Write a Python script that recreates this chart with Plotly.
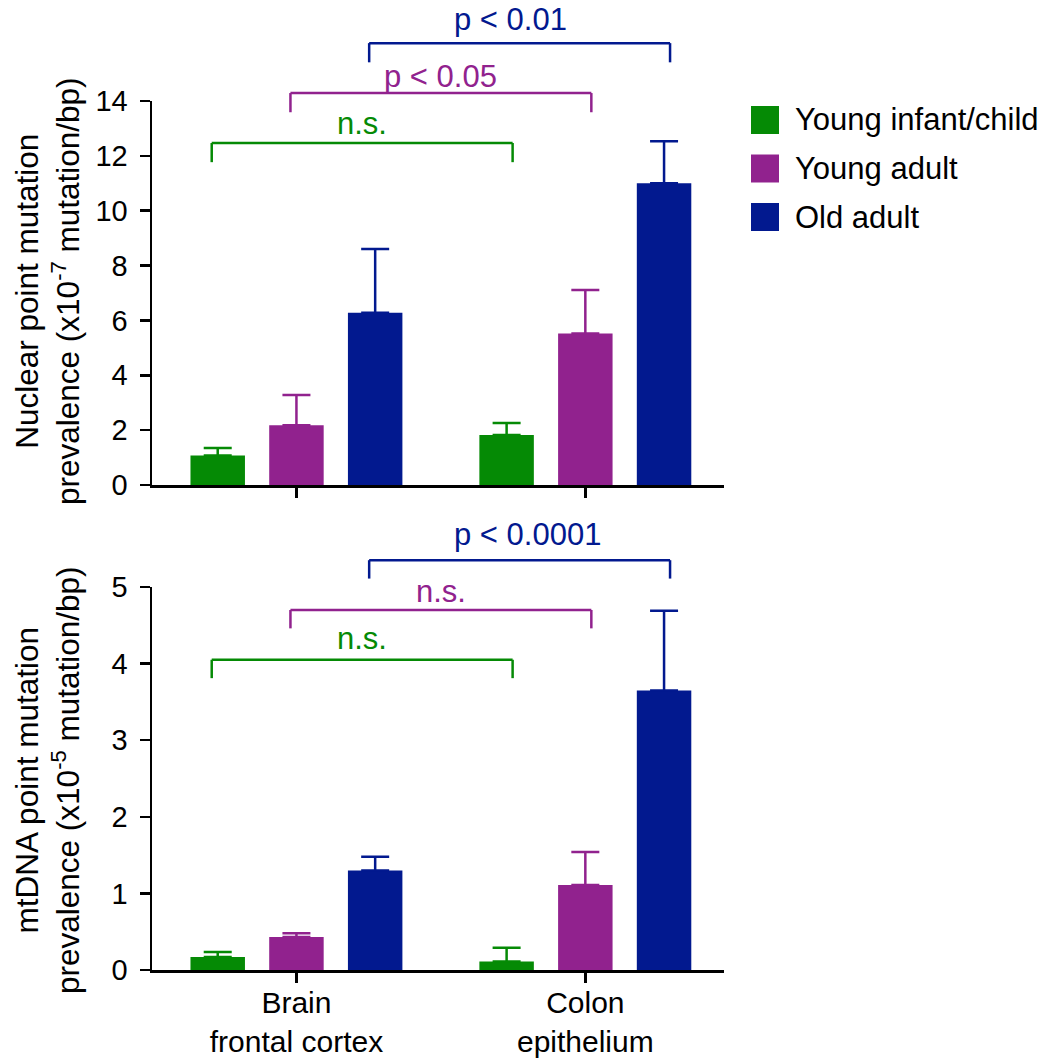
import plotly.graph_objects as go

# ---------------- data ----------------
tissues = ["Brain<br>frontal cortex", "Colon<br>epithelium"]
groups = ["Young infant/child", "Young adult", "Old adult"]
colors = ["#058A05", "#91228E", "#02198F"]

# Nuclear point mutation prevalence (x10^-7 mutation/bp)
nuc_infant = [1.08, 1.82]
nuc_infant_err = [0.27, 0.44]
nuc_young = [2.18, 5.52]
nuc_young_err = [1.10, 1.59]
nuc_old = [6.28, 11.0]
nuc_old_err = [2.32, 1.53]

# mtDNA point mutation prevalence (x10^-5 mutation/bp)
mt_infant = [0.17, 0.11]
mt_infant_err = [0.065, 0.18]
mt_young = [0.43, 1.11]
mt_young_err = [0.05, 0.43]
mt_old = [1.30, 3.65]
mt_old_err = [0.18, 1.04]

nuc_ticks = [0, 2, 4, 6, 8, 10, 12, 14]
mt_ticks = [0, 1, 2, 3, 4, 5]

# significance brackets: labels and bracket levels
nuc_sig_labels = ["n.s.", "p < 0.05", "p < 0.01"]
nuc_sig_levels = [12.47, 14.29, 16.11]
mt_sig_labels = ["n.s.", "n.s.", "p < 0.0001"]
mt_sig_levels = [4.05, 4.70, 5.35]

# ---------------- layout geometry ----------------
W, H = 1054, 1061
FONT = "Liberation Sans, Arial, Helvetica, sans-serif"
XMIN, XMAX = -0.5, 1.48
BARGAP = 0.1825
SLOT = (1 - BARGAP) / 3
xdom = [152 / W, 724 / W]
ydom_top = [1 - 485 / H, 1 - 101 / H]
ydom_bot = [1 - 970 / H, 1 - 587 / H]
PX_PER_UNIT = (xdom[1] - xdom[0]) * W / (XMAX - XMIN)

fig = go.Figure()
xpos = [0, 1]

panels = [
    ("x", "y", [nuc_infant, nuc_young, nuc_old], [nuc_infant_err, nuc_young_err, nuc_old_err]),
    ("x2", "y2", [mt_infant, mt_young, mt_old], [mt_infant_err, mt_young_err, mt_old_err]),
]
for xa, ya, means, errs in panels:
    for k, (name, col) in enumerate(zip(groups, colors)):
        fig.add_trace(go.Bar(
            x=xpos, y=means[k], name=name, showlegend=False,
            xaxis=xa, yaxis=ya, offsetgroup=str(k),
            marker=dict(color=col, line=dict(width=0)),
            error_y=dict(type="data", array=errs[k], arrayminus=[0, 0],
                         symmetric=False, color=col, thickness=2.5, width=14),
        ))

axis_common = dict(showline=True, linecolor="black", linewidth=2.5, ticks="outside",
                   ticklen=10, tickwidth=2.5, tickcolor="black", showgrid=False,
                   zeroline=False, automargin=False,
                   tickfont=dict(family=FONT, size=29, color="black"))

fig.update_layout(
    template="none",
    width=W, height=H, margin=dict(l=0, r=0, t=0, b=0, pad=0, autoexpand=False),
    paper_bgcolor="white", plot_bgcolor="white",
    barmode="group", bargap=BARGAP, bargroupgap=0.308,
    showlegend=False,
    xaxis=dict(domain=xdom, range=[XMIN, XMAX], tickvals=xpos, showticklabels=False,
               anchor="y", **axis_common),
    yaxis=dict(domain=ydom_top, range=[0, 14], tickvals=nuc_ticks, anchor="x",
               ticklabelstandoff=6, **axis_common),
    xaxis2=dict(domain=xdom, range=[XMIN, XMAX], tickvals=xpos, ticktext=tissues,
                anchor="y2", ticklabelstandoff=-6,
                **{**axis_common, "tickfont": dict(family=FONT, size=30, color="black")}),
    yaxis2=dict(domain=ydom_bot, range=[0, 5], tickvals=mt_ticks, anchor="x2",
                ticklabelstandoff=6, **axis_common),
)

shapes = []
annotations = []


def xd(v):
    return (v - XMIN) / (XMAX - XMIN)


def add_brackets(xref, yref, ymax, levels, labels, drop, label_dy, label_px_shift):
    pad = 6 / PX_PER_UNIT
    for k, (lvl, lab) in enumerate(zip(levels, labels)):
        off = (k - 1) * SLOT
        xl = xpos[0] + off - pad
        xr = xpos[1] + off + pad
        col = colors[k]
        ln = dict(color=col, width=2.5)
        for (a0, b0, a1, b1) in [(xl, lvl - drop, xl, lvl), (xl, lvl, xr, lvl), (xr, lvl, xr, lvl - drop)]:
            shapes.append(dict(type="line", xref=xref + " domain", yref=yref + " domain",
                               x0=xd(a0), y0=b0 / ymax, x1=xd(a1), y1=b1 / ymax, line=ln))
        xc = (xl + xr) / 2 + label_px_shift[k] / PX_PER_UNIT
        annotations.append(dict(text=lab, xref=xref + " domain", yref=yref + " domain",
                                x=xd(xc), y=(lvl + label_dy[k]) / ymax,
                                xanchor="center", yanchor="middle", showarrow=False,
                                font=dict(family=FONT, size=31, color=col)))


add_brackets("x", "y", 14, nuc_sig_levels, nuc_sig_labels, 0.7, [0.72, 0.62, 0.85], [0, 0, -9])
add_brackets("x2", "y2", 5, mt_sig_levels, mt_sig_labels, 0.24, [0.28, 0.24, 0.33], [0, 0, 8])

# y-axis titles
for yc, text in [
    (291, "Nuclear point mutation<br>prevalence (x10<sup>-7</sup> mutation/bp)"),
    (780, "mtDNA point mutation<br>prevalence (x10<sup>-5</sup> mutation/bp)"),
]:
    annotations.append(dict(text=text, xref="paper", yref="paper", x=47 / W, y=1 - yc / H,
                            xanchor="center", yanchor="middle", textangle=-90, showarrow=False,
                            font=dict(family=FONT, size=31.5, color="black")))

# legend (manual, large swatches)
for i, (name, col) in enumerate(zip(groups, colors)):
    cy = 120 + 48.5 * i
    shapes.append(dict(type="rect", xref="paper", yref="paper",
                       x0=751 / W, x1=779 / W, y0=1 - (cy - 14) / H, y1=1 - (cy + 14) / H,
                       fillcolor=col, line=dict(width=0)))
    annotations.append(dict(text=name, xref="paper", yref="paper", x=793 / W, y=1 - cy / H,
                            xanchor="left", yanchor="middle", showarrow=False,
                            font=dict(family=FONT, size=31, color="black")))

fig.update_layout(shapes=shapes, annotations=annotations)
fig.write_html("out.html",
               config={"displayModeBar": False, "staticPlot": True},
               post_script="document.body.style.margin='0px';document.body.style.overflow='hidden';")
